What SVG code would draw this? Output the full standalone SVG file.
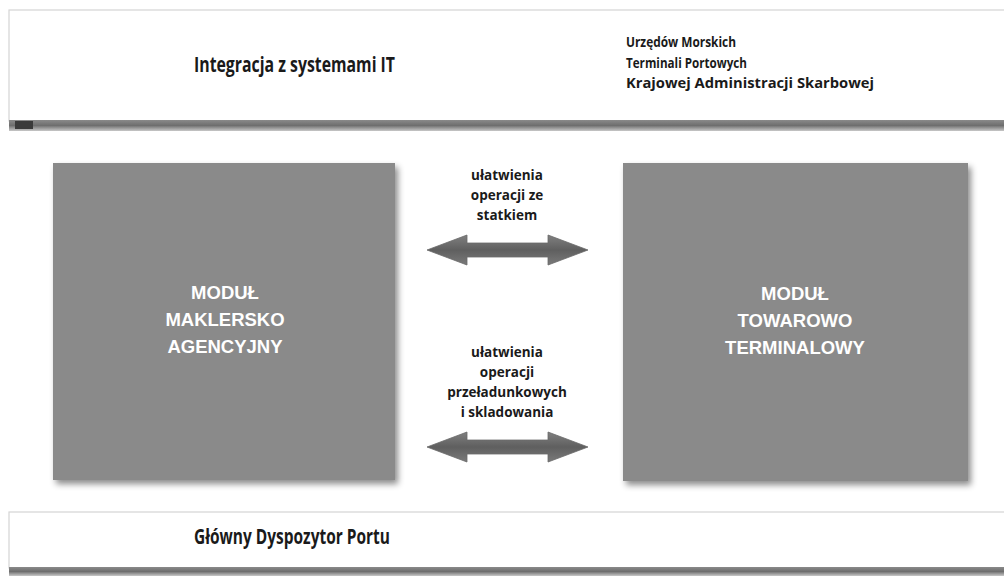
<svg xmlns="http://www.w3.org/2000/svg" width="1004" height="576" viewBox="0 0 1004 576">
<defs>
<style>
.bn{font-family:"Open Sans","Noto Sans","Liberation Sans",sans-serif;font-weight:bold;fill:#1a1a1a}
.mod{font-family:"Liberation Sans",Arial,sans-serif;font-weight:bold;font-size:18.5px;fill:#ffffff;text-anchor:middle}
.lbl{font-family:"Open Sans","Noto Sans","Liberation Sans",sans-serif;font-weight:bold;font-size:13.5px;fill:#1a1a1a;text-anchor:middle}
.box{fill:#8a8a8a;filter:url(#sh)}
.ban{fill:#ffffff;stroke:#d4d4d4;stroke-width:1.2}
.arr{fill:url(#ag);stroke:#6a6a6a;stroke-width:0.8}
</style>
<filter id="sh" x="-10%" y="-10%" width="125%" height="125%">
<feDropShadow dx="3" dy="4" stdDeviation="3" flood-color="#000" flood-opacity="0.45"/>
</filter>
<linearGradient id="band" x1="0" y1="0" x2="0" y2="1">
<stop offset="0" stop-color="#8a8a8a"/>
<stop offset="0.5" stop-color="#6e6e6e"/>
<stop offset="1" stop-color="#c8c8c8"/>
</linearGradient>
<linearGradient id="ag" x1="0" y1="0" x2="0" y2="1">
<stop offset="0" stop-color="#808080"/>
<stop offset="0.5" stop-color="#5f5f5f"/>
<stop offset="1" stop-color="#7a7a7a"/>
</linearGradient>
</defs>
<rect width="1004" height="576" fill="#ffffff"/>

<g id="top-banner">
<rect class="ban" x="9" y="10" width="1000" height="111"/>
<rect x="9" y="120" width="995" height="11" fill="url(#band)"/>
<rect x="15" y="121" width="18" height="8" fill="#3a3a3a"/>
<text class="bn" x="194" y="72" font-size="21" textLength="201" lengthAdjust="spacingAndGlyphs">Integracja z systemami IT</text>
<text class="bn" x="626" y="47" font-size="13.5" textLength="110" lengthAdjust="spacingAndGlyphs">Urzędów Morskich</text>
<text class="bn" x="626" y="68" font-size="13.5" textLength="121" lengthAdjust="spacingAndGlyphs">Terminali Portowych</text>
<text class="bn" x="626" y="88" font-size="13.5" textLength="248" lengthAdjust="spacingAndGlyphs">Krajowej Administracji Skarbowej</text>
</g>

<g id="modul-maklersko">
<rect class="box" x="53" y="163" width="342" height="317"/>
<text class="mod" x="225" y="299">MODUŁ</text>
<text class="mod" x="225" y="326">MAKLERSKO</text>
<text class="mod" x="225" y="353">AGENCYJNY</text>
</g>

<g id="modul-towarowo">
<rect class="box" x="623" y="163" width="345" height="318"/>
<text class="mod" x="795" y="300">MODUŁ</text>
<text class="mod" x="795" y="327">TOWAROWO</text>
<text class="mod" x="795" y="354">TERMINALOWY</text>
</g>

<g id="bottom-banner">
<rect class="ban" x="9" y="512" width="1000" height="56"/>
<rect x="9" y="567" width="995" height="9" fill="url(#band)"/>
<text class="bn" x="194" y="544" font-size="21" textLength="196" lengthAdjust="spacingAndGlyphs">Główny Dyspozytor Portu</text>
</g>

<g id="connectors">
<path class="arr" d="M427,250 L467,235 L467,243 L548,243 L548,235 L588,250 L548,265 L548,257 L467,257 L467,265 Z"/>
<text class="lbl" x="507" y="180">ułatwienia</text>
<text class="lbl" x="507" y="200">operacji ze</text>
<text class="lbl" x="507" y="220">statkiem</text>
<path class="arr" d="M427,447 L467,432 L467,440 L548,440 L548,432 L588,447 L548,462 L548,454 L467,454 L467,462 Z"/>
<text class="lbl" x="507" y="357">ułatwienia</text>
<text class="lbl" x="507" y="377">operacji</text>
<text class="lbl" x="507" y="397">przeładunkowych</text>
<text class="lbl" x="507" y="417">i skladowania</text>
</g>
</svg>
